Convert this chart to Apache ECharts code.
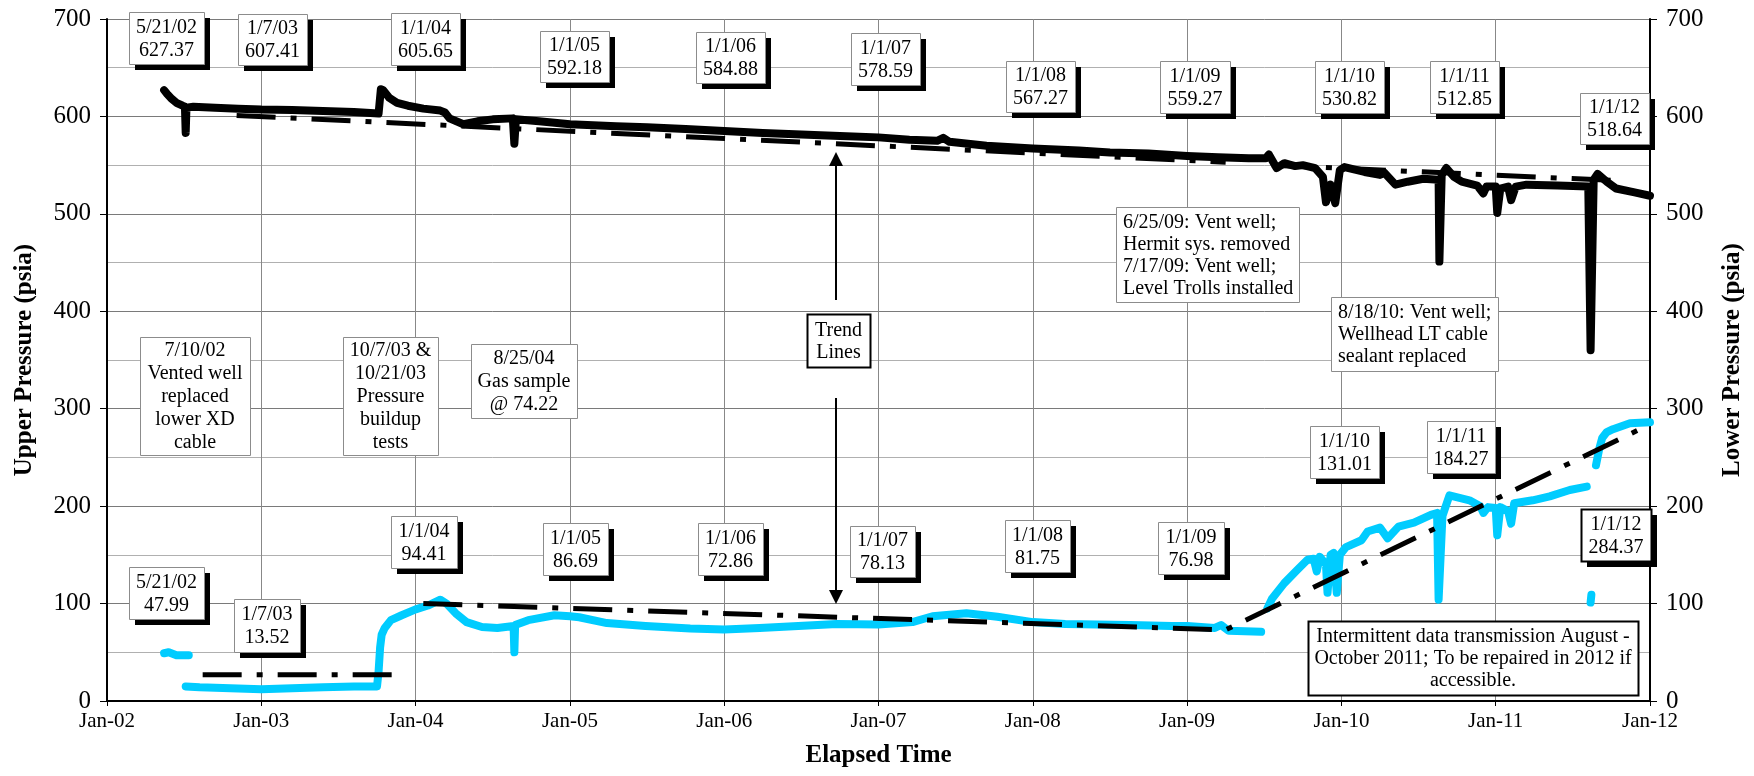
<!DOCTYPE html>
<html>
<head>
<meta charset="utf-8">
<script src="https://cdn.jsdelivr.net/npm/echarts@6/dist/echarts.min.js"></script>
<style>html,body{margin:0;padding:0;background:#fff}#c{width:1754px;height:776px}</style>
</head>
<body>
<div id="c"></div>
<script>
// ---------- data ----------
const xTickLabels = ['Jan-02','Jan-03','Jan-04','Jan-05','Jan-06','Jan-07','Jan-08','Jan-09','Jan-10','Jan-11','Jan-12'];

// [decimal year, psia]
const upperPressure = [
 [2002.37,627],[2002.39,623],[2002.42,618],[2002.45,614],[2002.49,611],[2002.505,610],[2002.51,583],[2002.515,609],
 [2002.56,610],[2002.7,609],[2002.85,608],[2003.0,607],[2003.2,606.5],[2003.4,605.5],[2003.6,604.5],[2003.76,603],
 [2003.775,628],[2003.79,627],[2003.83,619],[2003.88,614],[2003.95,611],[2004.05,608],[2004.16,606],[2004.19,604],
 [2004.22,598],[2004.31,592],[2004.4,595],[2004.5,597],[2004.63,598],[2004.64,572],[2004.65,597],[2004.8,595],
 [2005.0,592],[2005.3,590],[2005.5,589],[2005.75,587],[2006.0,585],[2006.25,583],[2006.5,581.5],[2006.75,580],
 [2007.0,578.5],[2007.2,576],[2007.38,575],[2007.42,578],[2007.46,574],[2007.7,570],[2008.0,567],[2008.3,565],
 [2008.5,563],[2008.75,562],[2009.0,559.5],[2009.2,558],[2009.4,557],[2009.51,557],[2009.53,561],[2009.58,547],
 [2009.63,552],[2009.7,549],[2009.75,550],[2009.83,547],[2009.88,538],[2009.9,512],[2009.93,530],[2009.96,511],
 [2009.99,545],[2010.02,548],[2010.15,543],[2010.25,540],[2010.28,542],[2010.35,530],[2010.43,533],[2010.53,536],
 [2010.63,535],[2010.635,451],[2010.65,540],[2010.68,547],[2010.73,538],[2010.78,533],[2010.88,529],[2010.92,521],
 [2010.94,528],[2011.0,528],[2011.01,501],[2011.03,526],[2011.08,528],[2011.1,514],[2011.13,528],[2011.2,530],
 [2011.4,529],[2011.6,528],[2011.615,360],[2011.635,535],[2011.66,541],[2011.72,533],[2011.78,526],[2011.9,522],
 [2012.0,518.6]
];

// null = no data (gap)
const lowerPressure = [
 [2002.37,49],[2002.40,50],[2002.45,47],[2002.53,47],[2002.53,null],
 [2002.51,15],[2002.6,14],[2002.8,13],[2003.0,12],[2003.2,13],[2003.4,14],[2003.6,15],[2003.75,15],
 [2003.76,30],[2003.77,55],[2003.78,68],[2003.8,75],[2003.84,83],[2003.91,88],[2004.0,94],[2004.08,98],
 [2004.16,104],[2004.2,100],[2004.26,90],[2004.33,81],[2004.43,76],[2004.53,75],[2004.635,77],[2004.64,50],
 [2004.645,78],[2004.73,83],[2004.9,88],[2005.0,87],[2005.06,86],[2005.24,80],[2005.49,77],[2005.78,74.5],
 [2006.0,73.5],[2006.23,75],[2006.48,77],[2006.73,79],[2007.0,78.5],[2007.22,81],[2007.35,87],[2007.57,90],
 [2007.77,86.5],[2008.0,81],[2008.21,79],[2008.63,78],[2008.9,77],[2009.0,77],[2009.18,75],[2009.22,78],
 [2009.27,72],[2009.48,71],[2009.49,null],
 [2009.52,95],[2009.55,105],[2009.63,121],[2009.71,134],[2009.78,145],[2009.82,146],[2009.84,133],[2009.86,148],
 [2009.9,140],[2009.91,111],[2009.93,150],[2009.95,152],[2009.97,111],[2009.99,150],[2010.03,158],[2010.13,165],
 [2010.17,174],[2010.25,178],[2010.3,167],[2010.37,179],[2010.47,183],[2010.58,191],[2010.62,193],[2010.63,104],
 [2010.655,190],[2010.7,211],[2010.83,206],[2010.9,200],[2010.92,193],[2010.95,199],[2011.0,198],[2011.01,170],
 [2011.03,199],[2011.08,195],[2011.1,182],[2011.12,203],[2011.24,206],[2011.35,210],[2011.48,216.6],[2011.59,220],
 [2011.6,null],
 [2011.615,101],[2011.62,109],[2011.63,null],
 [2011.65,242],[2011.67,258],[2011.69,270],[2011.72,276],[2011.76,279],[2011.87,285],[2012.0,286]
];

const upperTrendA = [[2002.84,601],[2009.25,553]];
const upperTrendB = [[2009.55,550],[2011.8,534]];
const lowerTrendA = [[2002.62,27],[2003.85,27]];
const lowerTrendB = [[2004.05,100],[2009.25,73],[2012.0,284]];

const dateLabels = [
 '5/21/02\n627.37','1/7/03\n607.41','1/1/04\n605.65','1/1/05\n592.18','1/1/06\n584.88','1/1/07\n578.59',
 '1/1/08\n567.27','1/1/09\n559.27','1/1/10\n530.82','1/1/11\n512.85','1/1/12\n518.64',
 '5/21/02\n47.99','1/7/03\n13.52','1/1/04\n94.41','1/1/05\n86.69','1/1/06\n72.86','1/1/07\n78.13',
 '1/1/08\n81.75','1/1/09\n76.98','1/1/10\n131.01','1/1/11\n184.27','1/1/12\n284.37'
];
const noteLabels = [
 '7/10/02\nVented well\nreplaced\nlower XD\ncable',
 '10/7/03 &\n10/21/03\nPressure\nbuildup\ntests',
 '8/25/04\nGas sample\n@ 74.22',
 '6/25/09: Vent well;\nHermit sys. removed\n7/17/09: Vent well;\nLevel Trolls installed',
 '8/18/10: Vent well;\nWellhead LT cable\nsealant replaced',
 'Intermittent data transmission August -\nOctober 2011; To be repaired in 2012 if\naccessible.',
 'Trend\nLines'
];

// ---------- layout of annotation boxes ----------
const dateBoxLayout = [
 [129,12,75,52],[238,14,69,51],[391,13,69,52],[540,31,69,51],[696,32,69,51],[851,33,69,52],
 [1006,61,69,51],[1160,61,70,52],[1315,61,69,52],[1430,61,69,52],[1580,93,69,51],
 [129,567,75,52],[234,599,66,53],[391,516,66,52],[543,523,65,52],[698,523,65,52],[850,526,65,51],
 [1005,520,65,52],[1158,522,66,52],[1310,426,69,52],[1427,421,68,52],[1581,509,70,52]
];
const noteLayout = [
 {r:[140,337,110,118], align:'center', lh:23, bw:1, bc:'#8c8c8c'},
 {r:[343,337,95,118], align:'center', lh:23, bw:1, bc:'#8c8c8c'},
 {r:[471,344,106,74], align:'center', lh:23, bw:1, bc:'#8c8c8c'},
 {r:[1116,207,183,95], align:'left', lh:22, bw:1, bc:'#8c8c8c'},
 {r:[1331,297,167,74], align:'left', lh:22, bw:1, bc:'#8c8c8c'},
 {r:[1308,621,330,74], align:'center', lh:22, bw:2, bc:'#000'},
 {r:[807,314,63,53], align:'center', lh:22, bw:2, bc:'#000'}
];

const FONT = '"Liberation Serif","Times New Roman",serif';

function boxElems(text, r, opt) {
  const [x, y, w, h] = r;
  const els = [];
  if (opt.shadow) {
    els.push({type:'rect', z:100, silent:true, shape:{x:x+6, y:y+6, width:w, height:h}, style:{fill:'#000'}});
  }
  els.push({type:'rect', z:101, silent:true, shape:{x:x+0.5, y:y+0.5, width:w, height:h},
            style:{fill:'#fff', stroke:opt.bc, lineWidth:opt.bw}});
  els.push({type:'text', z:102, silent:true, style:{
    text:text, x: opt.align === 'left' ? x + 7 : x + w/2, y: y + h/2 + 1,
    textAlign: opt.align, textVerticalAlign:'middle', lineHeight: opt.lh,
    font: '20px ' + FONT, fill:'#000'}});
  return els;
}

const graphics = [];
dateLabels.forEach((t, i) => {
  const thick = (i === dateLabels.length - 1);
  graphics.push(...boxElems(t, dateBoxLayout[i], {shadow:true, align:'center', lh:23, bw: thick ? 2 : 1, bc: thick ? '#000' : '#8c8c8c'}));
});
noteLabels.forEach((t, i) => {
  graphics.push(...boxElems(t, noteLayout[i].r, noteLayout[i]));
});
// arrows from "Trend Lines" box
graphics.push({type:'line', z:100, silent:true, shape:{x1:836, y1:300, x2:836, y2:164}, style:{stroke:'#000', lineWidth:2}});
graphics.push({type:'polygon', z:100, silent:true, shape:{points:[[829,166],[843,166],[836,152]]}, style:{fill:'#000'}});
graphics.push({type:'line', z:100, silent:true, shape:{x1:836, y1:398, x2:836, y2:592}, style:{stroke:'#000', lineWidth:2}});
graphics.push({type:'polygon', z:100, silent:true, shape:{points:[[829,590],[843,590],[836,604]]}, style:{fill:'#000'}});

const toSeriesData = arr => arr.map(p => p[1] === null ? [p[0], '-'] : p);
const trendStyle = {color:'#000', width:5, type:[39,15,6,15], cap:'butt'};

const yAxisCommon = {
  type:'value', min:0, max:700, interval:100,
  axisLine:{show:true, lineStyle:{color:'#000', width:2}},
  axisTick:{show:true, length:7, lineStyle:{color:'#000', width:1}},
  axisLabel:{fontFamily:FONT, fontSize:25, color:'#000', margin:16},
  nameLocation:'middle', nameRotate:90, nameGap:70,
  nameTextStyle:{fontFamily:FONT, fontSize:25, fontWeight:'bold', color:'#000'},
  minorTick:{show:false, splitNumber:2}
};

const chart = echarts.init(document.getElementById('c'), null, {renderer:'canvas'});
chart.setOption({
  animation:false,
  backgroundColor:'#fff',
  grid:{left:107, right:104, top:19, bottom:75, containLabel:false},
  xAxis:{
    type:'value', min:2002, max:2012, interval:1,
    name:'Elapsed Time', nameLocation:'middle', nameGap:42,
    nameTextStyle:{fontFamily:FONT, fontSize:25, fontWeight:'bold', color:'#000'},
    axisLine:{show:true, onZero:false, lineStyle:{color:'#000', width:2}},
    axisTick:{show:true, length:5, lineStyle:{color:'#000'}},
    axisLabel:{fontFamily:FONT, fontSize:21, color:'#000', margin:10,
      formatter: v => xTickLabels[Math.round(v - 2002)]},
    splitLine:{show:true, lineStyle:{color:'#888', width:1}}
  },
  yAxis:[
    Object.assign({}, yAxisCommon, {
      position:'left', name:'Upper Pressure (psia)',
      splitLine:{show:true, lineStyle:{color:'#7a7a7a', width:1}},
      minorSplitLine:{show:true, lineStyle:{color:'#b0b0b0', width:1}}
    }),
    Object.assign({}, yAxisCommon, {
      position:'right', name:'Lower Pressure (psia)',
      splitLine:{show:false}, minorSplitLine:{show:false}
    })
  ],
  graphic: graphics,
  series:[
    {type:'line', name:'Upper', yAxisIndex:0, data:toSeriesData(upperPressure), showSymbol:false, z:3,
     lineStyle:{color:'#000', width:8, cap:'round', join:'round'}, silent:true},
    {type:'line', name:'Lower', yAxisIndex:1, data:toSeriesData(lowerPressure), showSymbol:false, z:3, connectNulls:false,
     lineStyle:{color:'#00CCFF', width:8, cap:'round', join:'round'}, silent:true},
    {type:'line', name:'UpperTrendA', yAxisIndex:0, data:upperTrendA, showSymbol:false, z:4, lineStyle:trendStyle, silent:true},
    {type:'line', name:'UpperTrendB', yAxisIndex:0, data:upperTrendB, showSymbol:false, z:4, lineStyle:trendStyle, silent:true},
    {type:'line', name:'LowerTrendA', yAxisIndex:1, data:lowerTrendA, showSymbol:false, z:4, lineStyle:trendStyle, silent:true},
    {type:'line', name:'LowerTrendB', yAxisIndex:1, data:lowerTrendB, showSymbol:false, z:4, lineStyle:trendStyle, silent:true}
  ]
});
</script>
</body>
</html>
